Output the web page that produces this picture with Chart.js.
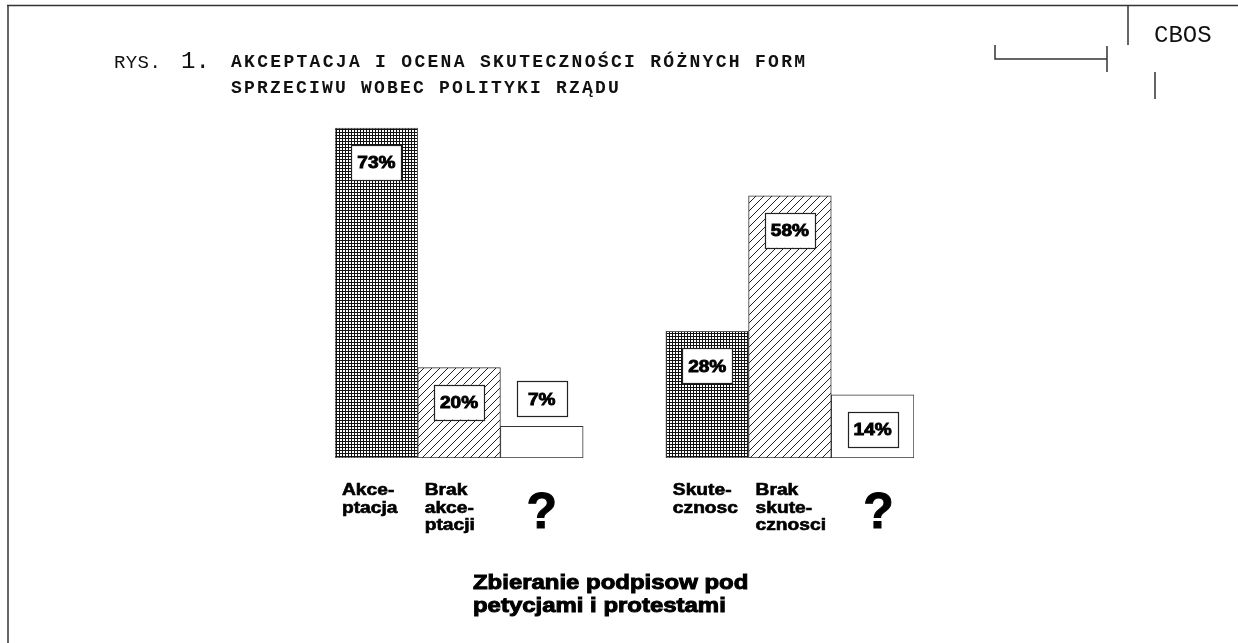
<!DOCTYPE html>
<html>
<head>
<meta charset="utf-8">
<script src="https://cdn.jsdelivr.net/npm/chart.js@4.4.1/dist/chart.umd.min.js"></script>
<style>
  html, body { margin: 0; padding: 0; background: #fff; }
  #wrap { width: 1238px; height: 643px; }
</style>
</head>
<body>
<div id="wrap"><canvas id="cbosChart" width="1238" height="643"></canvas></div>
<script>
// values (percent), gap slot between the two groups
const categories = ['Akceptacja', 'Brak akceptacji', '?', '', 'Skutecznosc', 'Brak skutecznosci', '?'];
const values = [73, 20, 7, null, 28, 58, 14];
const tickLabels = [['Akce-', 'ptacja'], ['Brak', 'akce-', 'ptacji'], ['?'], [], ['Skute-', 'cznosc'], ['Brak', 'skute-', 'cznosci'], ['?']];
const figLabel = ['RYS.', '1.'];
const titleLines = ['AKCEPTACJA I OCENA SKUTECZNOŚCI RÓŻNYCH FORM', 'SPRZECIWU WOBEC POLITYKI RZĄDU'];
const bottomTitle = ['Zbieranie podpisow pod', 'petycjami i protestami'];
const sourceLabel = 'CBOS';

const canvas = document.getElementById('cbosChart');
const mainCtx = canvas.getContext('2d');

// fill patterns: dense crosshatch, diagonal hatch, plain
function crossPattern() {
    const c = document.createElement('canvas');
    c.width = 3; c.height = 3;
    const g = c.getContext('2d');
    g.fillStyle = '#fff';
    g.fillRect(0, 0, 3, 3);
    g.fillStyle = '#111';
    g.fillRect(0, 0, 3, 1);
    g.fillRect(0, 0, 1, 3);
    return mainCtx.createPattern(c, 'repeat');
}
function hatchPattern() {
    const c = document.createElement('canvas');
    c.width = 8; c.height = 8;
    const g = c.getContext('2d');
    g.fillStyle = '#fff';
    g.fillRect(0, 0, 8, 8);
    g.strokeStyle = '#222';
    g.lineWidth = 1;
    g.beginPath();
    g.moveTo(-1, 9); g.lineTo(9, -1);
    g.moveTo(-1, 1); g.lineTo(1, -1);
    g.moveTo(7, 9); g.lineTo(9, 7);
    g.stroke();
    return mainCtx.createPattern(c, 'repeat');
}
const fills = [crossPattern(), hatchPattern(), '#fff'];

const monoFont = '"Courier New", "Liberation Mono", monospace';
const sansFont = '"Liberation Sans", Arial, sans-serif';

function spacedText(ctx, text, x, y, pitch) {
    for (let i = 0; i < text.length; i++) {
        ctx.fillText(text[i], x + i * pitch, y);
    }
}
// the scan uses a wide, heavy grotesque: stretch and thicken the bold sans
function heavyText(ctx, text, x, y, w, sx) {
    ctx.save();
    ctx.translate(x, y);
    ctx.scale(sx || 1, 1);
    ctx.fillText(text, 0, 0);
    ctx.lineWidth = w;
    ctx.strokeText(text, 0, 0);
    ctx.restore();
}

const decor = {
    id: 'decor',
    beforeDraw(chart) {
        const ctx = chart.ctx;
        ctx.save();
        // page frame
        ctx.strokeStyle = '#333';
        ctx.lineWidth = 1.5;
        ctx.beginPath();
        ctx.moveTo(7, 5.5); ctx.lineTo(1238, 5.5);
        ctx.moveTo(8, 5); ctx.lineTo(8, 643);
        // CBOS corner marks
        ctx.moveTo(1128, 5); ctx.lineTo(1128, 45);
        ctx.moveTo(995, 45); ctx.lineTo(995, 59); ctx.lineTo(1107, 59);
        ctx.moveTo(1107, 46); ctx.lineTo(1107, 72);
        ctx.moveTo(1155, 72); ctx.lineTo(1155, 99);
        ctx.stroke();

        ctx.fillStyle = '#111';
        ctx.textBaseline = 'alphabetic';
        ctx.textAlign = 'left';
        ctx.font = '24px ' + monoFont;
        ctx.fillText(sourceLabel, 1154, 42);

        ctx.font = '19px ' + monoFont;
        spacedText(ctx, figLabel[0], 114, 68, 11.8);
        ctx.font = '24px ' + monoFont;
        ctx.fillText(figLabel[1], 181, 68);
        ctx.font = 'bold 18px ' + monoFont;
        spacedText(ctx, titleLines[0], 231, 67, 13.1);
        spacedText(ctx, titleLines[1], 231, 93, 13.0);
        ctx.restore();
    },
    afterDatasetsDraw(chart) {
        const ctx = chart.ctx;
        const meta = chart.getDatasetMeta(0);
        ctx.save();
        meta.data.forEach((bar, i) => {
            const v = values[i];
            if (v === null) return;
            // value box
            const bw = 50, bh = 35;
            const h = bar.base - bar.y;
            const top = h < 40 ? bar.y - 10 - bh : bar.y + 17;
            ctx.fillStyle = '#fff';
            ctx.fillRect(bar.x - bw / 2, top, bw, bh);
            ctx.strokeStyle = '#222';
            ctx.lineWidth = 1.2;
            ctx.strokeRect(Math.round(bar.x - bw / 2) + 0.5, Math.round(top) + 0.5, bw, bh);
            ctx.fillStyle = '#000';
            ctx.strokeStyle = '#000';
            ctx.font = 'bold 17px ' + sansFont;
            ctx.textAlign = 'center';
            ctx.textBaseline = 'middle';
            heavyText(ctx, v + '%', bar.x, top + bh / 2 + 1, 0.9, 1.12);

            // category label under the bar
            const lines = tickLabels[i];
            ctx.textBaseline = 'alphabetic';
            if (lines.length === 1 && lines[0] === '?') {
                ctx.textAlign = 'center';
                ctx.font = 'bold 50px ' + sansFont;
                heavyText(ctx, '?', bar.x + (i > 3 ? 6 : 0), 528, 1);
            } else {
                ctx.textAlign = 'left';
                ctx.font = 'bold 16px ' + sansFont;
                const left = bar.x - bar.width / 2 + 7;
                lines.forEach((t, k) => heavyText(ctx, t, left, 495 + k * 17.5, 0.6, 1.2));
            }
        });

        ctx.textAlign = 'left';
        ctx.textBaseline = 'alphabetic';
        ctx.font = 'bold 21px ' + sansFont;
        heavyText(ctx, bottomTitle[0], 473, 589, 1, 1.14);
        heavyText(ctx, bottomTitle[1], 473, 612, 1, 1.14);
        ctx.restore();
    }
};

new Chart(canvas, {
    type: 'bar',
    data: {
        labels: categories,
        datasets: [{
            data: values,
            backgroundColor: c => fills[c.dataIndex % 4] || '#fff',
            borderColor: c => (c.dataIndex % 4 === 0 ? '#555' : '#333'),
            borderWidth: 1,
            borderSkipped: false,
            categoryPercentage: 1,
            barPercentage: 1
        }]
    },
    options: {
        responsive: false,
        devicePixelRatio: 1,
        animation: false,
        layout: { padding: { left: 335, right: 324, top: 6, bottom: 185 } },
        scales: {
            x: { display: false },
            y: { display: false, min: 0, max: 100 }
        },
        plugins: {
            legend: { display: false },
            tooltip: { enabled: false }
        }
    },
    plugins: [decor]
});
</script>
</body>
</html>
